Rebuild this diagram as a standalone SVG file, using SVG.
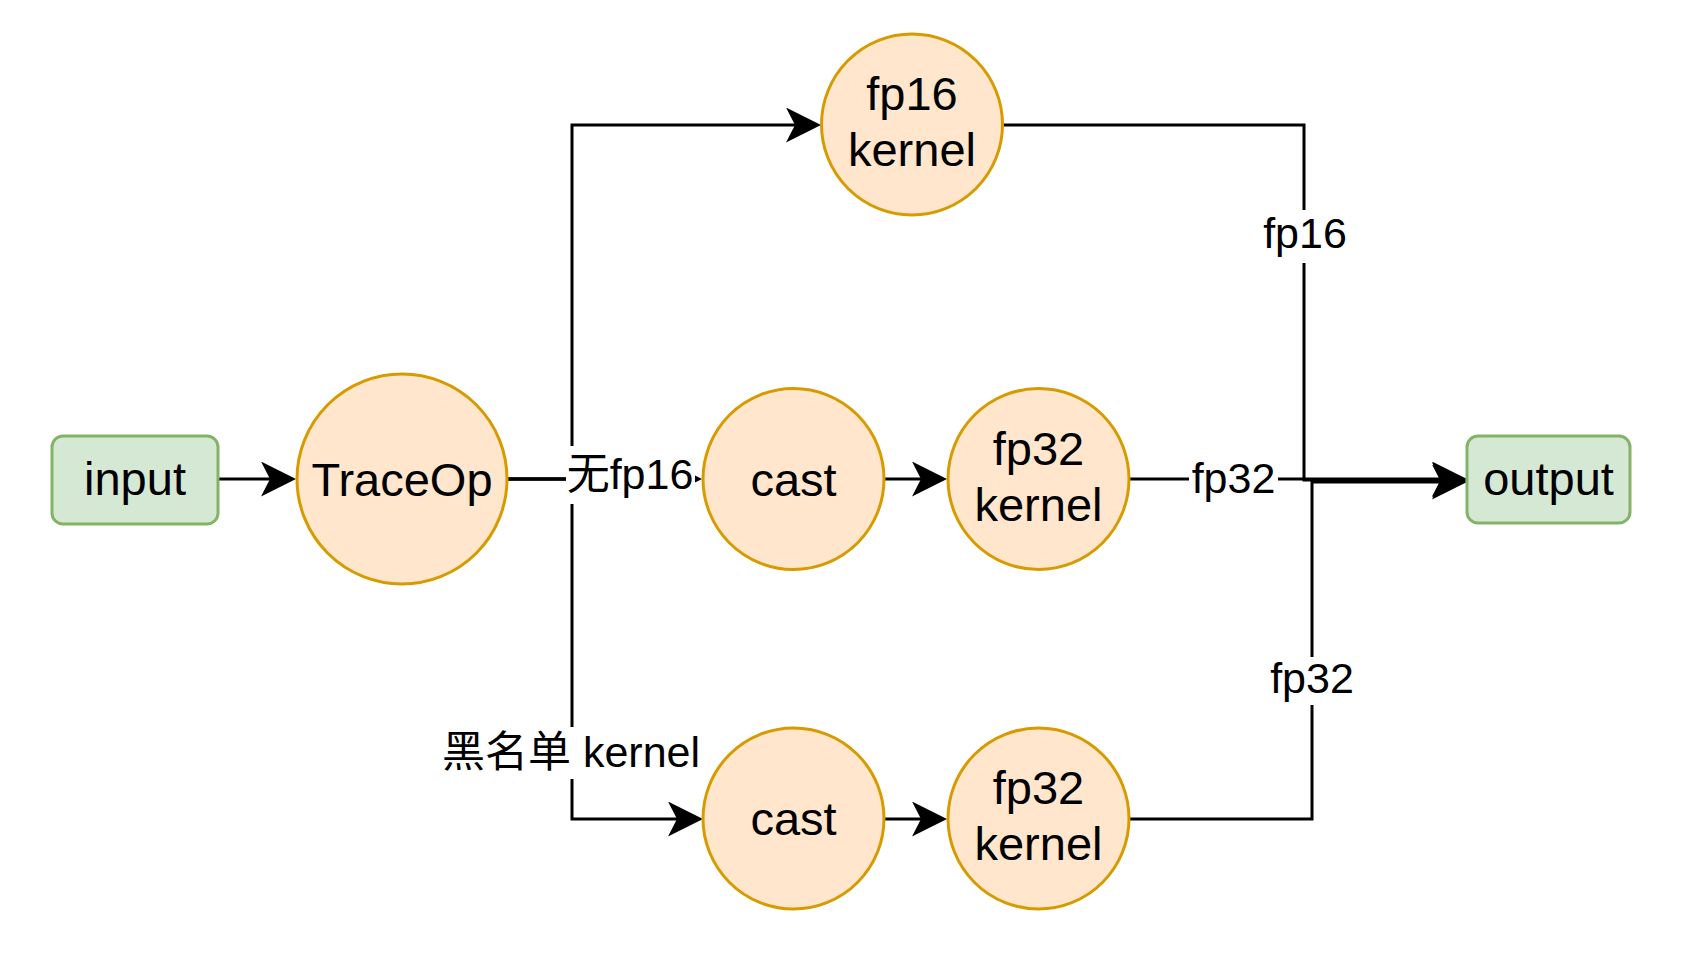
<svg xmlns="http://www.w3.org/2000/svg" width="1696" height="962" viewBox="0 0 1696 962">
<defs>
<style>
.edge{fill:none;stroke:#000;stroke-width:3;}
.circ{fill:#ffe6cc;stroke:#d79b00;stroke-width:3;}
.box{fill:#d5e8d4;stroke:#82b366;stroke-width:3;}
.nt{font-family:"Liberation Sans","Noto Sans CJK SC",sans-serif;font-size:47px;fill:#000;text-anchor:middle;}
.lt{font-family:"Liberation Sans","Noto Sans CJK SC",sans-serif;font-size:43px;fill:#000;text-anchor:middle;}
.lbg{fill:#fff;stroke:none;}
</style>
<marker id="arr" viewBox="0 0 35 35" refX="9" refY="17.5" markerWidth="35" markerHeight="35" markerUnits="userSpaceOnUse" orient="auto">
<path d="M0,0 L35,17.5 L0,35 L9,17.5 Z" fill="#000"/>
</marker>
</defs>
<rect width="1696" height="962" fill="#fff"/>
<g id="connectors">
<path class="edge" d="M219,479 L270,479" marker-end="url(#arr)"/>
<path class="edge" d="M507,479 L572,479 L572,125 L795,125" marker-end="url(#arr)"/>
<path class="edge" d="M507,479 L676,479" marker-end="url(#arr)"/>
<path class="edge" d="M507,479 L572,479 L572,819 L677,819" marker-end="url(#arr)"/>
<path class="edge" d="M884,479 L921,479" marker-end="url(#arr)"/>
<path class="edge" d="M884,819 L921,819" marker-end="url(#arr)"/>
<path class="edge" d="M1003,125 L1304,125 L1304,480 L1441,480" marker-end="url(#arr)"/>
<path class="edge" d="M1129,479 L1441,479" marker-end="url(#arr)"/>
<path class="edge" d="M1129,819 L1312,819 L1312,482 L1441,482" marker-end="url(#arr)"/>
<g id="edge-labels">
<rect class="lbg" x="566" y="446" width="129" height="58"/>
<text class="lt" x="630" y="489">无fp16</text>
<rect class="lbg" x="438" y="727" width="264" height="52"/>
<text class="lt" x="571" y="767">黑名单 kernel</text>
<rect class="lbg" x="1261" y="210" width="88" height="53"/>
<text class="lt" x="1305" y="248">fp16</text>
<rect class="lbg" x="1189" y="455" width="89" height="50"/>
<text class="lt" x="1233.5" y="493">fp32</text>
<rect class="lbg" x="1269" y="657" width="87" height="48"/>
<text class="lt" x="1312" y="693">fp32</text>
</g>
</g>
<g id="input">
<rect class="box" x="52" y="436" width="166" height="88" rx="11"/>
<text class="nt" x="135" y="495">input</text>
</g>
<g id="traceop">
<circle class="circ" cx="402" cy="479" r="105"/>
<text class="nt" x="402" y="496">TraceOp</text>
</g>
<g id="fp16-kernel">
<circle class="circ" cx="912" cy="124.5" r="90.5"/>
<text class="nt" x="912" y="110">fp16</text>
<text class="nt" x="912" y="166">kernel</text>
</g>
<g id="cast-mid">
<circle class="circ" cx="793.5" cy="479" r="90.5"/>
<text class="nt" x="793.5" y="496">cast</text>
</g>
<g id="fp32-kernel-mid">
<circle class="circ" cx="1038.5" cy="479" r="90.5"/>
<text class="nt" x="1038.5" y="465">fp32</text>
<text class="nt" x="1038.5" y="521">kernel</text>
</g>
<g id="cast-bottom">
<circle class="circ" cx="793.5" cy="818.5" r="90.5"/>
<text class="nt" x="793.5" y="835">cast</text>
</g>
<g id="fp32-kernel-bottom">
<circle class="circ" cx="1038.5" cy="818.5" r="90.5"/>
<text class="nt" x="1038.5" y="804">fp32</text>
<text class="nt" x="1038.5" y="860">kernel</text>
</g>
<g id="output">
<rect class="box" x="1467" y="436" width="163" height="87" rx="11"/>
<text class="nt" x="1548.5" y="495">output</text>
</g>
</svg>
